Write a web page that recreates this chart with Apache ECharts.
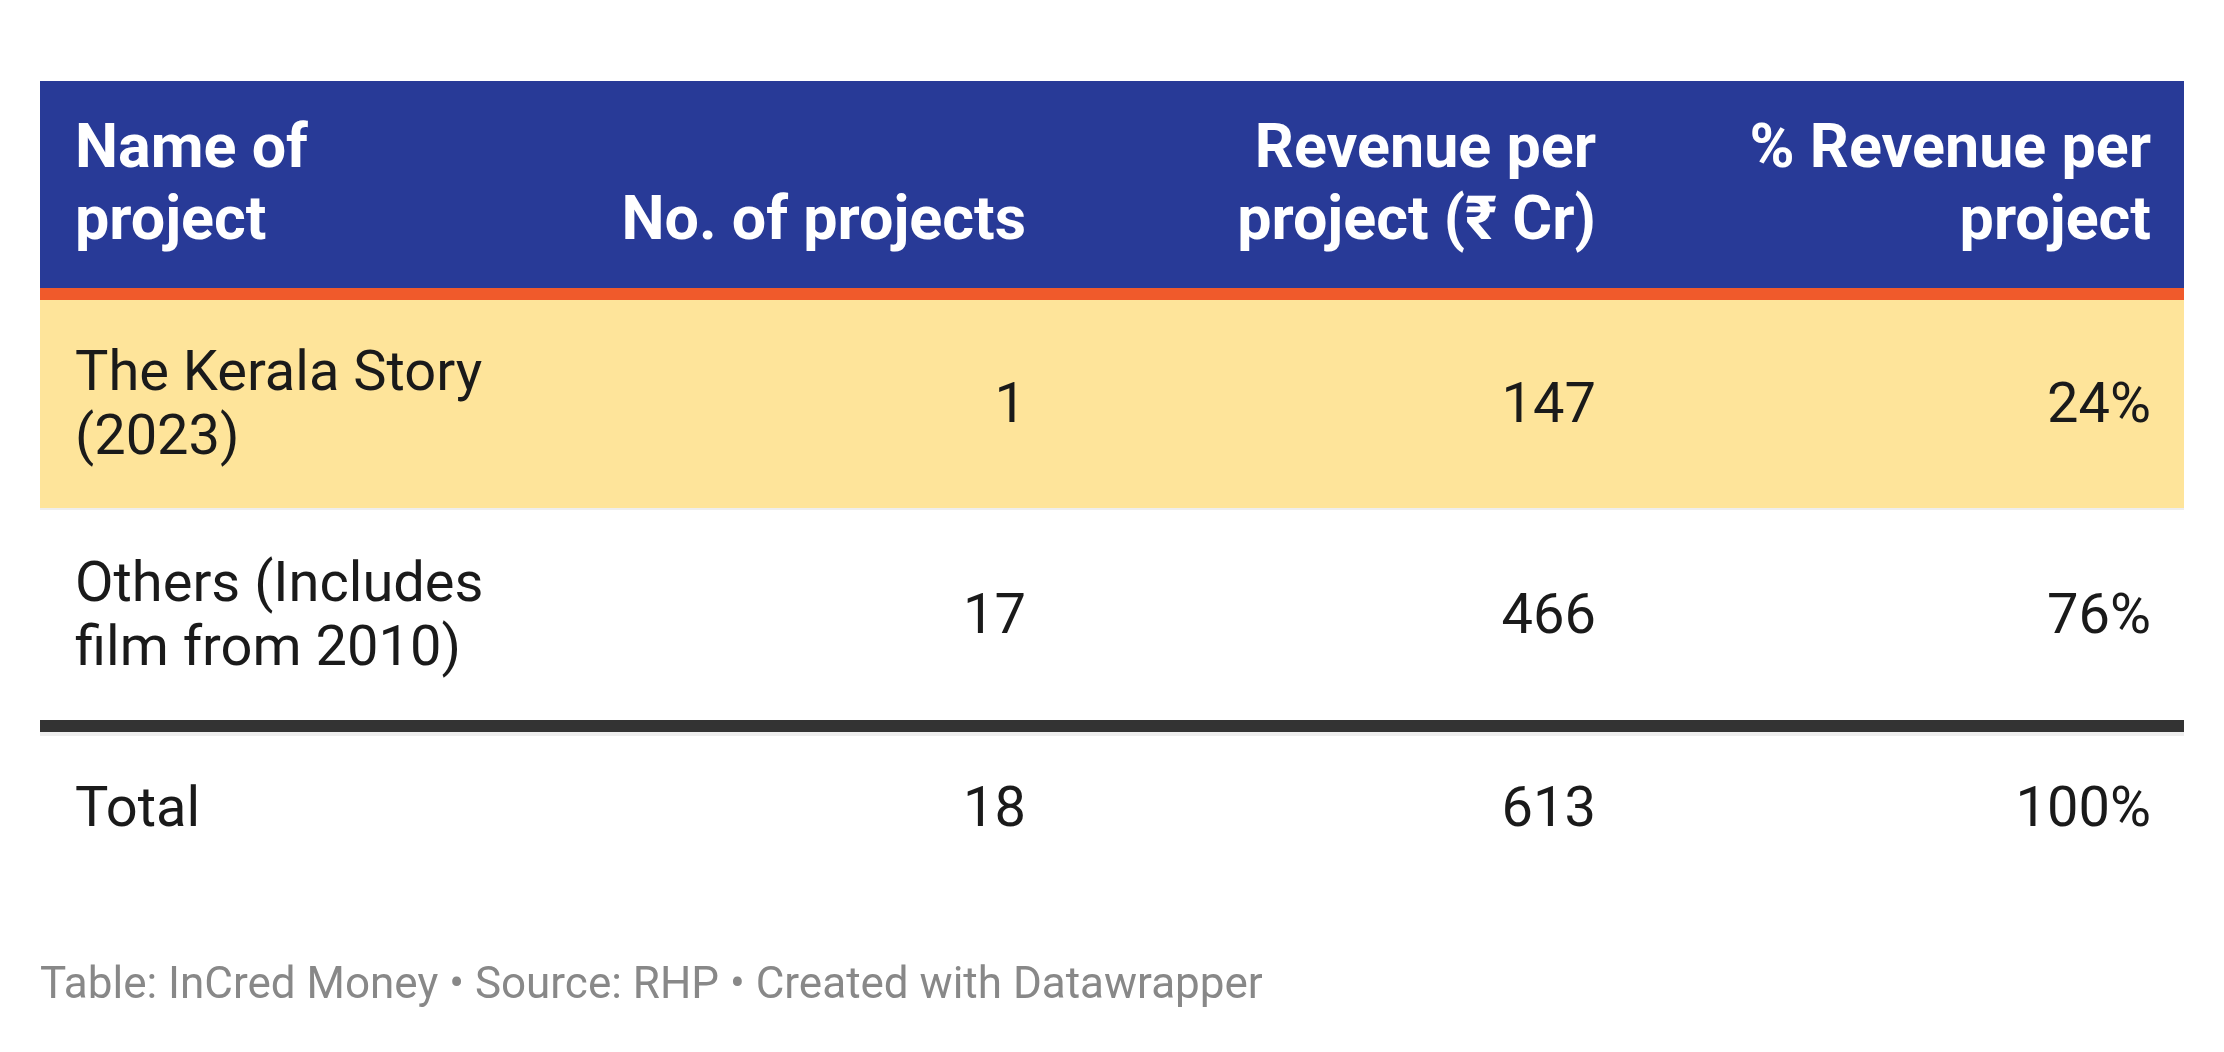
<!DOCTYPE html>
<html>
<head>
<meta charset="utf-8">
<script src="https://cdn.jsdelivr.net/npm/echarts@6/dist/echarts.min.js"></script>
<style>
  html, body { margin: 0; padding: 0; background: #fff; }
  #table { width: 2224px; height: 1052px; }
</style>
</head>
<body>
<div id="table"></div>
<script type="text/javascript">
	// table data
	var columns = ['Name of project', 'No. of projects', 'Revenue per project (₹ Cr)', '% Revenue per project'];
	var projectNames = ['The Kerala Story (2023)', 'Others (Includes film from 2010)', 'Total'];
	var projectCounts = [1, 17, 18];
	var revenuePerProject = [147, 466, 613];
	var revenueSharePct = [24, 76, 100];
	var footerText = 'Table: InCred Money • Source: RHP • Created with Datawrapper';

	// layout (pixels inside the grid)
	var tableWidth = 2144;
	var tableHeight = 799;
	var colAnchor = [35, 986, 1556, 2111];
	var colAlign = ['left', 'right', 'right', 'right'];
	var colWrap = [420, 460, 480, 520];
	var rowBands = [[0, 207], [219, 427], [429, 639], [655, 799]];
	var rowFill = ['#283a97', '#fee49a', '#ffffff', '#ffffff'];
	var rules = [
		{ y: [207, 219], color: '#f05a2b' },
		{ y: [427, 429], color: '#eeeeee' },
		{ y: [639, 651], color: '#333333' },
		{ y: [651, 655], color: '#eeeeee' }
	];
	var headFont = 'bold 61px Roboto';
	var bodyFont = '56px Roboto';

	// word wrap without trailing spaces
	var measureCtx = document.createElement('canvas').getContext('2d');
	function wrap(text, font, maxWidth) {
		measureCtx.font = font;
		var words = text.split(' ');
		var lines = [];
		var line = '';
		for (var i = 0; i < words.length; i++) {
			var test = line ? line + ' ' + words[i] : words[i];
			if (line && measureCtx.measureText(test).width > maxWidth) {
				lines.push(line);
				line = words[i];
			} else {
				line = test;
			}
		}
		lines.push(line);
		return lines.join('\n');
	}

	function cellTexts(row) {
		if (row === 0) return columns;
		var i = row - 1;
		return [projectNames[i], String(projectCounts[i]), String(revenuePerProject[i]), revenueSharePct[i] + '%'];
	}

	var chart = echarts.init(document.getElementById('table'));

	function bandRect(api, y0, y1, fill) {
		var a = api.coord([0, y0]);
		var b = api.coord([tableWidth, y1]);
		return {
			type: 'rect',
			shape: { x: a[0], y: a[1], width: b[0] - a[0], height: b[1] - a[1] },
			style: { fill: fill }
		};
	}

	function renderRow(params, api) {
		var row = api.value(0);
		var band = rowBands[row];
		var children = [bandRect(api, band[0], band[1], rowFill[row])];
		var texts = cellTexts(row);
		var isHeader = row === 0;
		for (var c = 0; c < texts.length; c++) {
			var yVal = isHeader ? band[1] - 28 : (band[0] + band[1]) / 2 + 4;
			var p = api.coord([colAnchor[c], yVal]);
			children.push({
				type: 'text',
				x: p[0],
				y: p[1],
				style: {
					text: wrap(texts[c], isHeader ? headFont : bodyFont, colWrap[c]),
					align: colAlign[c],
					verticalAlign: isHeader ? 'bottom' : 'middle',
					fontFamily: 'Roboto',
					fontSize: isHeader ? 61 : 56,
					fontWeight: isHeader ? 'bold' : 'normal',
					lineHeight: isHeader ? 72 : 64,
					fill: isHeader ? '#ffffff' : '#1a1a1a'
				}
			});
		}
		// rules under the rows
		if (row === 0) children.push(bandRect(api, rules[0].y[0], rules[0].y[1], rules[0].color));
		if (row === 1) children.push(bandRect(api, rules[1].y[0], rules[1].y[1], rules[1].color));
		if (row === 2) {
			children.push(bandRect(api, rules[2].y[0], rules[2].y[1], rules[2].color));
			children.push(bandRect(api, rules[3].y[0], rules[3].y[1], rules[3].color));
		}
		return { type: 'group', children: children };
	}

	var option = {
		backgroundColor: '#ffffff',
		animation: false,
		title: {
			text: footerText,
			left: 40,
			top: 965,
			padding: 0,
			textStyle: {
				fontFamily: 'Roboto',
				fontSize: 44,
				fontWeight: 'normal',
				color: '#888888'
			}
		},
		grid: { left: 40, right: 40, top: 81, bottom: 172 },
		xAxis: { type: 'value', min: 0, max: tableWidth, show: false },
		yAxis: { type: 'value', min: 0, max: tableHeight, inverse: true, show: false },
		series: [{
			type: 'custom',
			clip: false,
			silent: true,
			renderItem: renderRow,
			data: [[0], [1], [2], [3]]
		}]
	};
	chart.setOption(option);
</script>
</body>
</html>
